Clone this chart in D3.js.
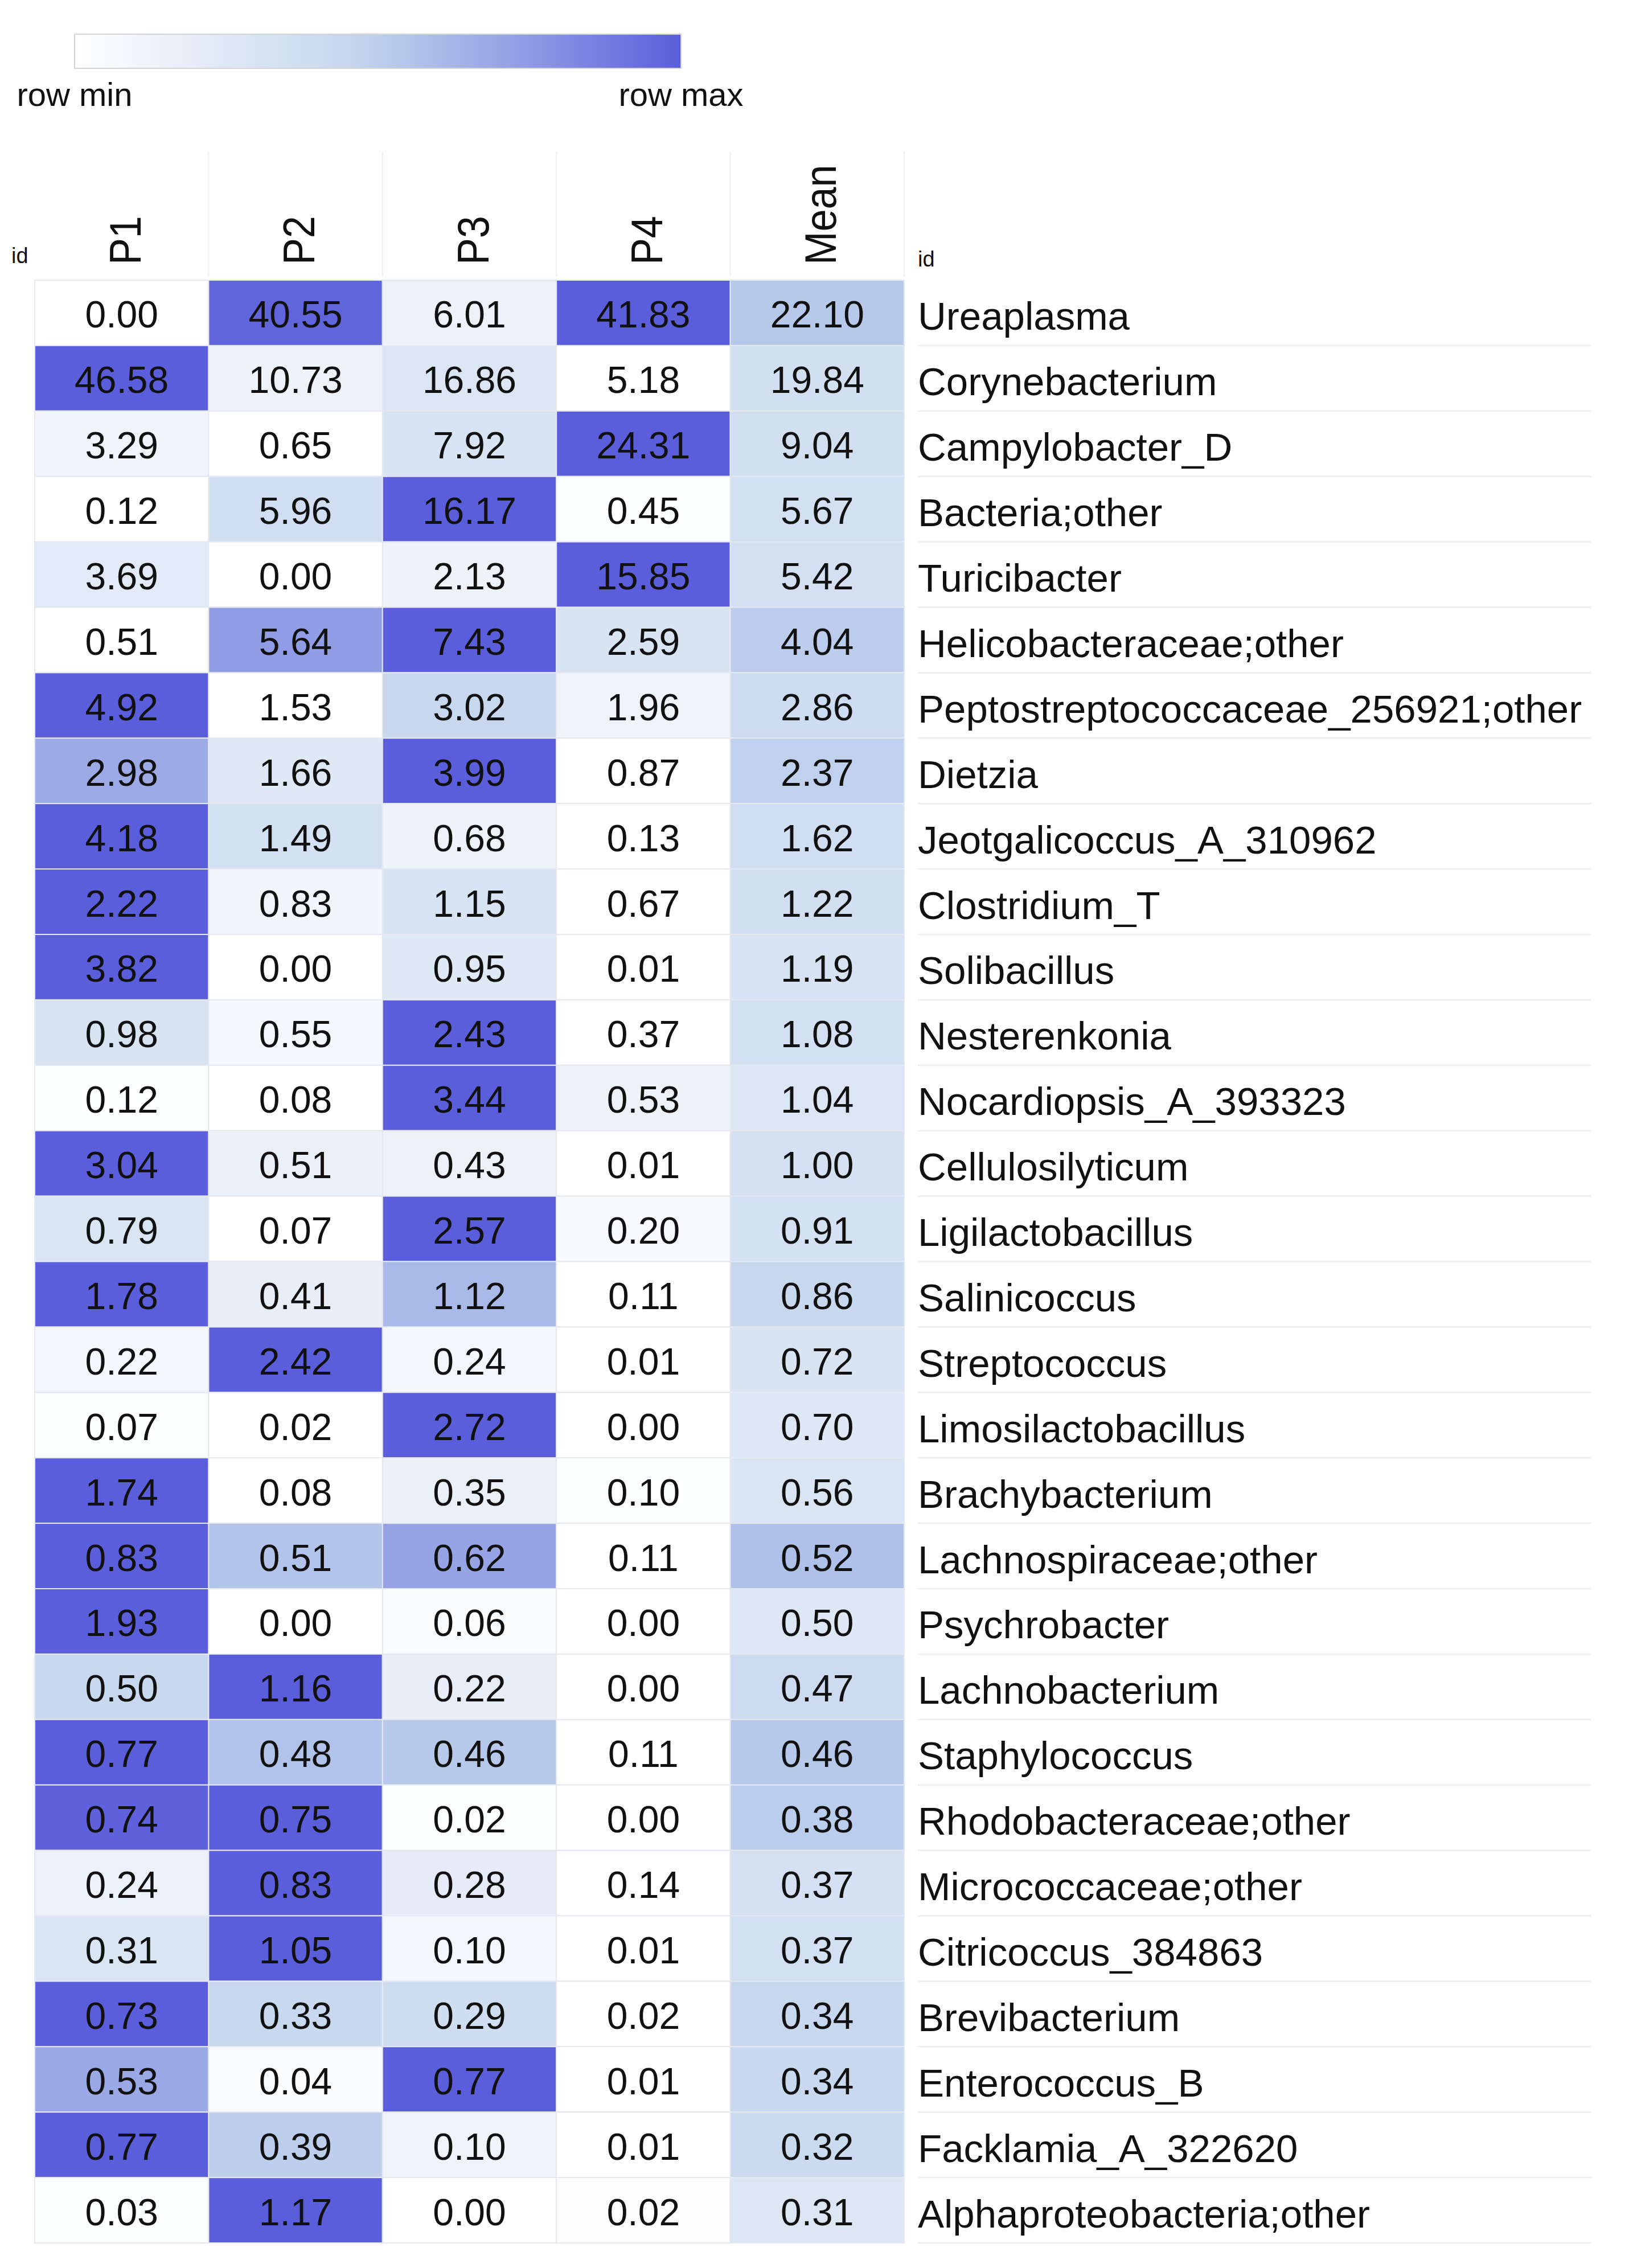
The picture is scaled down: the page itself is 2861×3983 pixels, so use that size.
<!DOCTYPE html>
<html>
<head>
<meta charset="utf-8">
<script src="https://cdn.jsdelivr.net/npm/d3@7"></script>
<style>
  body { margin: 0; background: #fff; }
  text { font-family: "Liberation Sans", Arial, sans-serif; fill: #111; }
</style>
</head>
<body>
<script>
var columns = ['P1', 'P2', 'P3', 'P4', 'Mean'];

var labels = ['Ureaplasma', 'Corynebacterium', 'Campylobacter_D', 'Bacteria;other', 'Turicibacter',
  'Helicobacteraceae;other', 'Peptostreptococcaceae_256921;other', 'Dietzia', 'Jeotgalicoccus_A_310962',
  'Clostridium_T', 'Solibacillus', 'Nesterenkonia', 'Nocardiopsis_A_393323', 'Cellulosilyticum',
  'Ligilactobacillus', 'Salinicoccus', 'Streptococcus', 'Limosilactobacillus', 'Brachybacterium',
  'Lachnospiraceae;other', 'Psychrobacter', 'Lachnobacterium', 'Staphylococcus', 'Rhodobacteraceae;other',
  'Micrococcaceae;other', 'Citricoccus_384863', 'Brevibacterium', 'Enterococcus_B', 'Facklamia_A_322620',
  'Alphaproteobacteria;other'];

var p1   = [0.00, 46.58, 3.29, 0.12, 3.69, 0.51, 4.92, 2.98, 4.18, 2.22, 3.82, 0.98, 0.12, 3.04, 0.79,
            1.78, 0.22, 0.07, 1.74, 0.83, 1.93, 0.50, 0.77, 0.74, 0.24, 0.31, 0.73, 0.53, 0.77, 0.03];
var p2   = [40.55, 10.73, 0.65, 5.96, 0.00, 5.64, 1.53, 1.66, 1.49, 0.83, 0.00, 0.55, 0.08, 0.51, 0.07,
            0.41, 2.42, 0.02, 0.08, 0.51, 0.00, 1.16, 0.48, 0.75, 0.83, 1.05, 0.33, 0.04, 0.39, 1.17];
var p3   = [6.01, 16.86, 7.92, 16.17, 2.13, 7.43, 3.02, 3.99, 0.68, 1.15, 0.95, 2.43, 3.44, 0.43, 2.57,
            1.12, 0.24, 2.72, 0.35, 0.62, 0.06, 0.22, 0.46, 0.02, 0.28, 0.10, 0.29, 0.77, 0.10, 0.00];
var p4   = [41.83, 5.18, 24.31, 0.45, 15.85, 2.59, 1.96, 0.87, 0.13, 0.67, 0.01, 0.37, 0.53, 0.01, 0.20,
            0.11, 0.01, 0.00, 0.10, 0.11, 0.00, 0.00, 0.11, 0.00, 0.14, 0.01, 0.02, 0.01, 0.01, 0.02];
var mean = [22.10, 19.84, 9.04, 5.67, 5.42, 4.04, 2.86, 2.37, 1.62, 1.22, 1.19, 1.08, 1.04, 1.00, 0.91,
            0.86, 0.72, 0.70, 0.56, 0.52, 0.50, 0.47, 0.46, 0.38, 0.37, 0.37, 0.34, 0.34, 0.32, 0.31];

var legendLabels = ['row min', 'row max'];

// gradient stops, white -> pale steel blue -> blue
var stopPos    = [0, 0.25, 0.45, 0.55, 0.75, 1];
var stopColors = ['#ffffff', '#dfe8f5', '#c6d7ee', '#b3c5ea', '#8e9be4', '#5b5edb'];

var W = 2861, H = 3983;

var svg = d3.select('body').append('svg')
  .attr('width', W)
  .attr('height', H)
  .attr('xmlns', 'http://www.w3.org/2000/svg');

svg.append('rect').attr('width', W).attr('height', H).style('fill', '#fff');

var color = d3.scaleLinear().domain(stopPos).range(stopColors);

var x = d3.scaleBand().domain(columns).range([61, 1588]);
var y = d3.scaleBand().domain(labels).range([492, 3939]);

// Legend bar
var grad = svg.append('defs').append('linearGradient').attr('id', 'rowgrad');
grad.selectAll('stop')
  .data(stopPos)
  .enter()
  .append('stop')
    .attr('offset', function(d){ return (d * 100) + '%'; })
    .attr('stop-color', function(d, i){ return stopColors[i]; });

var legendX = d3.scaleLinear().domain([0, 1]).range([131, 1196]);

svg.append('rect')
  .attr('x', legendX(0))
  .attr('y', 60)
  .attr('width', legendX(1) - legendX(0))
  .attr('height', 60)
  .style('fill', 'url(#rowgrad)')
  .style('stroke', '#d4d4d4')
  .style('stroke-width', 2);

svg.selectAll('.legend-label')
  .data(legendLabels)
  .enter()
  .append('text')
    .attr('class', 'legend-label')
    .attr('x', function(d, i){ return legendX(i); })
    .attr('y', 186)
    .style('font-size', '58px')
    .style('text-anchor', 'middle')
    .text(function(d){ return d; });

// Column headers
svg.selectAll('.col-sep')
  .data(columns)
  .enter()
  .append('line')
    .attr('class', 'col-sep')
    .attr('x1', function(d){ return x(d) + x.bandwidth(); })
    .attr('x2', function(d){ return x(d) + x.bandwidth(); })
    .attr('y1', 266)
    .attr('y2', 486)
    .style('stroke', '#efefef')
    .style('stroke-width', 2);

svg.selectAll('.col-header')
  .data(columns)
  .enter()
  .append('text')
    .attr('class', 'col-header')
    .attr('transform', function(d){
      return 'translate(' + (x(d) + x.bandwidth() / 2 + 33) + ',465) rotate(-90) scale(0.9,1)';
    })
    .style('font-size', '78px')
    .style('text-anchor', 'start')
    .text(function(d){ return d; });

svg.append('text')
  .attr('x', 20).attr('y', 462)
  .style('font-size', '38px')
  .text('id');

svg.append('text')
  .attr('x', 1612).attr('y', 468)
  .style('font-size', '38px')
  .text('id');

// Rows
var series = [p1, p2, p3, p4, mean];
var rows = labels.map(function(name, i){
  var vals = series.map(function(s){ return s[i]; });
  return { name: name, values: vals, min: d3.min(vals), max: d3.max(vals) };
});

var rowG = svg.append('g').selectAll('g')
  .data(rows)
  .enter()
  .append('g')
    .attr('transform', function(d){ return 'translate(0,' + y(d.name) + ')'; });

rowG.each(function(row){
  var g = d3.select(this);
  var cells = columns.map(function(c, j){ return { col: c, v: row.values[j] }; });

  g.selectAll('rect')
    .data(cells)
    .enter()
    .append('rect')
      .attr('x', function(d){ return x(d.col); })
      .attr('y', 0)
      .attr('width', x.bandwidth())
      .attr('height', y.bandwidth())
      .style('fill', function(d){
        var t = row.max > row.min ? (d.v - row.min) / (row.max - row.min) : 0;
        return color(t);
      })
      .style('stroke', '#e6e8ef')
      .style('stroke-width', 2);

  g.selectAll('.cell-value')
    .data(cells)
    .enter()
    .append('text')
      .attr('class', 'cell-value')
      .attr('x', function(d){ return x(d.col) + x.bandwidth() / 2; })
      .attr('y', y.bandwidth() / 2 + 26)
      .style('font-size', '66px')
      .style('text-anchor', 'middle')
      .text(function(d){ return d.v.toFixed(2); });
});

rowG.append('text')
  .attr('x', 1612)
  .attr('y', y.bandwidth() / 2 + 30)
  .style('font-size', '69px')
  .text(function(d){ return d.name; });

rowG.append('line')
  .attr('x1', 1612)
  .attr('x2', 2795)
  .attr('y1', y.bandwidth())
  .attr('y2', y.bandwidth())
  .style('stroke', '#efefef')
  .style('stroke-width', 3);
</script>
</body>
</html>
